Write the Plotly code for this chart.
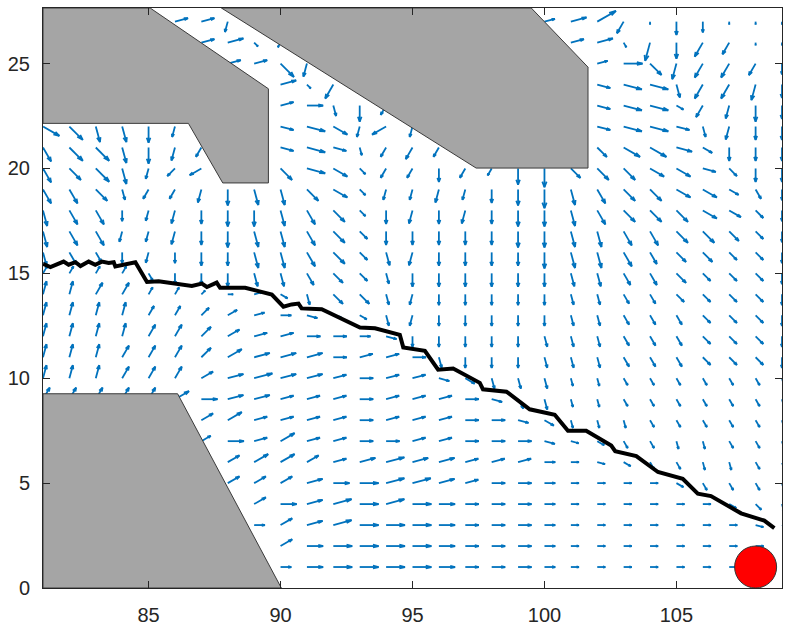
import math
import plotly.graph_objects as go

# ---- figure geometry -------------------------------------------------------
FIG_W, FIG_H = 787, 630
MARGIN = dict(l=43, r=4, t=8, b=38)
X_RANGE = (81, 109)
Y_RANGE = (0, 27.65)

# ---- vector field on a unit grid --------------------------------------------
grid_x = list(range(81, 110))        # 29 columns
grid_y = list(range(27, 0, -1))      # rows, top to bottom

# heading code per cell: letter index * 15 deg, counter-clockwise from east
# '.' marks a cell without a vector
heading_rows = [
    "....." "bbr" "..........." "bbcqssssss",          # y=27
    "......" "bbvq" ".........." "bbursqqss",          # y=26
    "......." "bbvr" ".........." "bavrqqqs",          # y=25
    "........." "bvq" "........." "xxxtqqrs",          # y=24
    "........." "batsq" "......." "xxxwqrss",          # y=23
    "wvttsr" "..." "xxwror" "......" "xxxxtrss",       # y=22
    "uvvtsrq" ".." "xxxtqqq" "....." "vwwxwsss",       # y=21
    "uvvtrpo" ".." "vxwvqqsqqssvvvwwxvss",             # y=20
    "uuvtqqrstt" "vwvrrrrsss" "tuvvwwwus",             # y=19
    "tuusrrssst" "uvvsrsrsss" "tuvvvwwvs",             # y=18
    "tuurrrsstt" "uvvsssssss" "ttuuvvvvs",             # y=17
    "tuusrssstt" "uvvtrsssss" "ttuuvvvvs",             # y=16
    "eeeeussstt" "uvvtssssss" "ttuuvvvvs",             # y=15
    "ffeeeedabw" "tvvtrsssss" "ttuuvvvvs",             # y=14
    "ffffeedcba" "xxwtrsssss" "ttuuuvvvs",             # y=13
    "ffffeedcbb" "aaaxssssst" "ttuuuvvvs",             # y=12
    "fffeeedcbb" "babbatssst" "ttuuuvvvs",             # y=11
    "fffeeecbbb" "bbabbxwttt" "ttuuuuuut",             # y=10
    "eeeeecabbb" "bbabbbaxut" "ttuuuuuut",             # y=9
    "......" "ccbbbbabbbaaxw" "tttuuuuut",             # y=8
    "......" "cabcbbaabbaaax" "xwuuttuut",             # y=7
    "......" "dccccbbbbbbbba" "axwuuttut",             # y=6
    "......." "cccbaabbbbaaa" "aaaawuuut",             # y=5
    "........" "cabbabaaaaaa" "aaaaaawvt",             # y=4
    "........" "acbbaaaaaaaa" "aaaaaaaxw",             # y=3
    "........." "caaaaaaaaaa" "aaaaaaaaa",             # y=2
    "........." "aaaaaaaaaaa" "aaaaaaaaa",             # y=1
]

# relative vector magnitude per cell
magnitude_rows = [
    "00000" "554" "00000000000" "4685154111",
    "000000" "5622" "0000000000" "562766511",
    "0000000" "5575" "0000000000" "47666654",
    "000000000" "626" "000000000" "57756665",
    "000000000" "56464" "0000000" "57735565",
    "776664" "000" "576464" "000000" "57754555",
    "6776654" "00" "5753454" "00000" "57764555",
    "6676445" "00" "67634454367566665455",
    "6664445666" "6634454567" "666666444",
    "6664455666" "6635555566" "666666544",
    "6664455666" "6645555566" "666666544",
    "5544445566" "6645555556" "666555444",
    "3333344555" "5544555555" "555554444",
    "5555332233" "4554444444" "444444444",
    "5555444444" "4334444444" "444444444",
    "5555555555" "5544444444" "444444444",
    "5555555666" "6555544444" "444444444",
    "5555555676" "6555544444" "333333333",
    "5555566665" "5555555444" "333333333",
    "000000" "56555555555544" "333333333",
    "000000" "46565555555554" "333333333",
    "000000" "45665567665554" "333333333",
    "0000000" "5556677765554" "333333333",
    "00000000" "566777765554" "333333333",
    "00000000" "456777765554" "333333333",
    "000000000" "56777765554" "333333333",
    "000000000" "46777765554" "333333333",
]

# ---- obstacles ---------------------------------------------------------------
obstacle_a_x = [81, 85.06, 89.54, 89.54, 87.81, 86.51, 81, 81]
obstacle_a_y = [27.65, 27.65, 23.8, 19.31, 19.31, 22.15, 22.15, 27.65]
obstacle_b_x = [87.76, 99.5, 101.65, 101.65, 97.41, 87.76]
obstacle_b_y = [27.65, 27.65, 24.83, 20.02, 20.02, 27.65]
obstacle_c_x = [81, 86.1, 90.03, 81, 81]
obstacle_c_y = [9.26, 9.26, 0, 0, 9.26]

# ---- planned path --------------------------------------------------------------
path_x = [81.0, 81.28, 81.78, 81.97, 82.23, 82.42, 82.73, 82.98, 83.23, 83.49,
          83.68, 83.74, 84.50, 84.94, 85.38, 86.64, 87.02, 87.21, 87.58, 87.71,
          88.66, 89.29, 89.67, 90.11, 90.42, 90.68, 90.80, 91.56, 92.57, 93.01,
          93.58, 94.52, 94.65, 95.47, 95.97, 96.54, 97.55, 97.67, 98.56, 99.44,
          100.39, 100.89, 101.58, 102.53, 102.68, 103.48, 104.30, 104.93, 105.24,
          105.81, 106.31, 107.45, 108.33, 108.71]
path_y = [15.45, 15.30, 15.56, 15.41, 15.53, 15.35, 15.56, 15.41, 15.56, 15.49,
          15.53, 15.33, 15.53, 14.59, 14.62, 14.40, 14.51, 14.35, 14.56, 14.31,
          14.31, 14.14, 13.99, 13.41, 13.52, 13.56, 13.33, 13.29, 12.70, 12.42,
          12.38, 12.07, 11.47, 11.31, 10.41, 10.46, 9.78, 9.47, 9.36, 8.52,
          8.26, 7.50, 7.50, 6.79, 6.52, 6.29, 5.53, 5.33, 5.21,
          4.50, 4.38, 3.56, 3.21, 2.85]

goal_x = [108]
goal_y = [1]

# ---- build quiver segments ---------------------------------------------------
plot_w = FIG_W - MARGIN["l"] - MARGIN["r"]
plot_h = FIG_H - MARGIN["t"] - MARGIN["b"]
px_per_x = plot_w / (X_RANGE[1] - X_RANGE[0])
px_per_y = plot_h / (Y_RANGE[1] - Y_RANGE[0])
PX_PER_STEP = 2.7          # on-screen length of one magnitude step
HEAD_A, HEAD_B = 0.3, 0.3  # arrow head length / width factors

assert len(heading_rows) == len(grid_y) == len(magnitude_rows)
qx, qy = [], []
for yy, hrow, mrow in zip(grid_y, heading_rows, magnitude_rows):
    assert len(hrow) == len(grid_x), (yy, len(hrow))
    assert len(mrow) == len(grid_x), (yy, len(mrow))
    for xx, h, m in zip(grid_x, hrow, mrow):
        if h == "." or m == "0":
            continue
        ang = math.radians(15 * (ord(h) - ord("a")))
        length = int(m) * PX_PER_STEP
        u = length * math.cos(ang) / px_per_x
        v = length * math.sin(ang) / px_per_y
        tx, ty = xx + u, yy + v
        qx += [xx, tx, None,
               tx - HEAD_A * (u + HEAD_B * v), tx, tx - HEAD_A * (u - HEAD_B * v), None]
        qy += [yy, ty, None,
               ty - HEAD_A * (v - HEAD_B * u), ty, ty - HEAD_A * (v + HEAD_B * u), None]

fig = go.Figure()
fig.add_trace(go.Scatter(x=qx, y=qy, mode="lines",
                         line=dict(color="#0072BD", width=1.8),
                         hoverinfo="skip", showlegend=False))

for ox, oy in [(obstacle_a_x, obstacle_a_y),
               (obstacle_b_x, obstacle_b_y),
               (obstacle_c_x, obstacle_c_y)]:
    fig.add_trace(go.Scatter(x=ox, y=oy, mode="lines", fill="toself",
                             fillcolor="#a5a5a5",
                             line=dict(color="#3a3a3a", width=1),
                             hoverinfo="skip", showlegend=False))

fig.add_trace(go.Scatter(x=path_x, y=path_y, mode="lines",
                         line=dict(color="black", width=4),
                         showlegend=False))

fig.add_trace(go.Scatter(x=goal_x, y=goal_y, mode="markers",
                         marker=dict(size=42, color="#ff0000",
                                     line=dict(color="#333333", width=1)),
                         showlegend=False))

axis_common = dict(showgrid=False, zeroline=False, showline=True, mirror="ticks",
                   linecolor="#262626", linewidth=1, ticks="inside", ticklen=7,
                   tickcolor="#262626",
                   tickfont=dict(family="Liberation Sans", size=20, color="#262626"))

fig.update_xaxes(range=list(X_RANGE), tickvals=[85, 90, 95, 100, 105],
                 ticklabelstandoff=9, **axis_common)
fig.update_yaxes(range=list(Y_RANGE), tickvals=[0, 5, 10, 15, 20, 25],
                 ticklabelstandoff=8, **axis_common)

fig.update_layout(width=FIG_W, height=FIG_H, margin=MARGIN,
                  plot_bgcolor="white", paper_bgcolor="white",
                  showlegend=False)

fig.write_html("out.html")
